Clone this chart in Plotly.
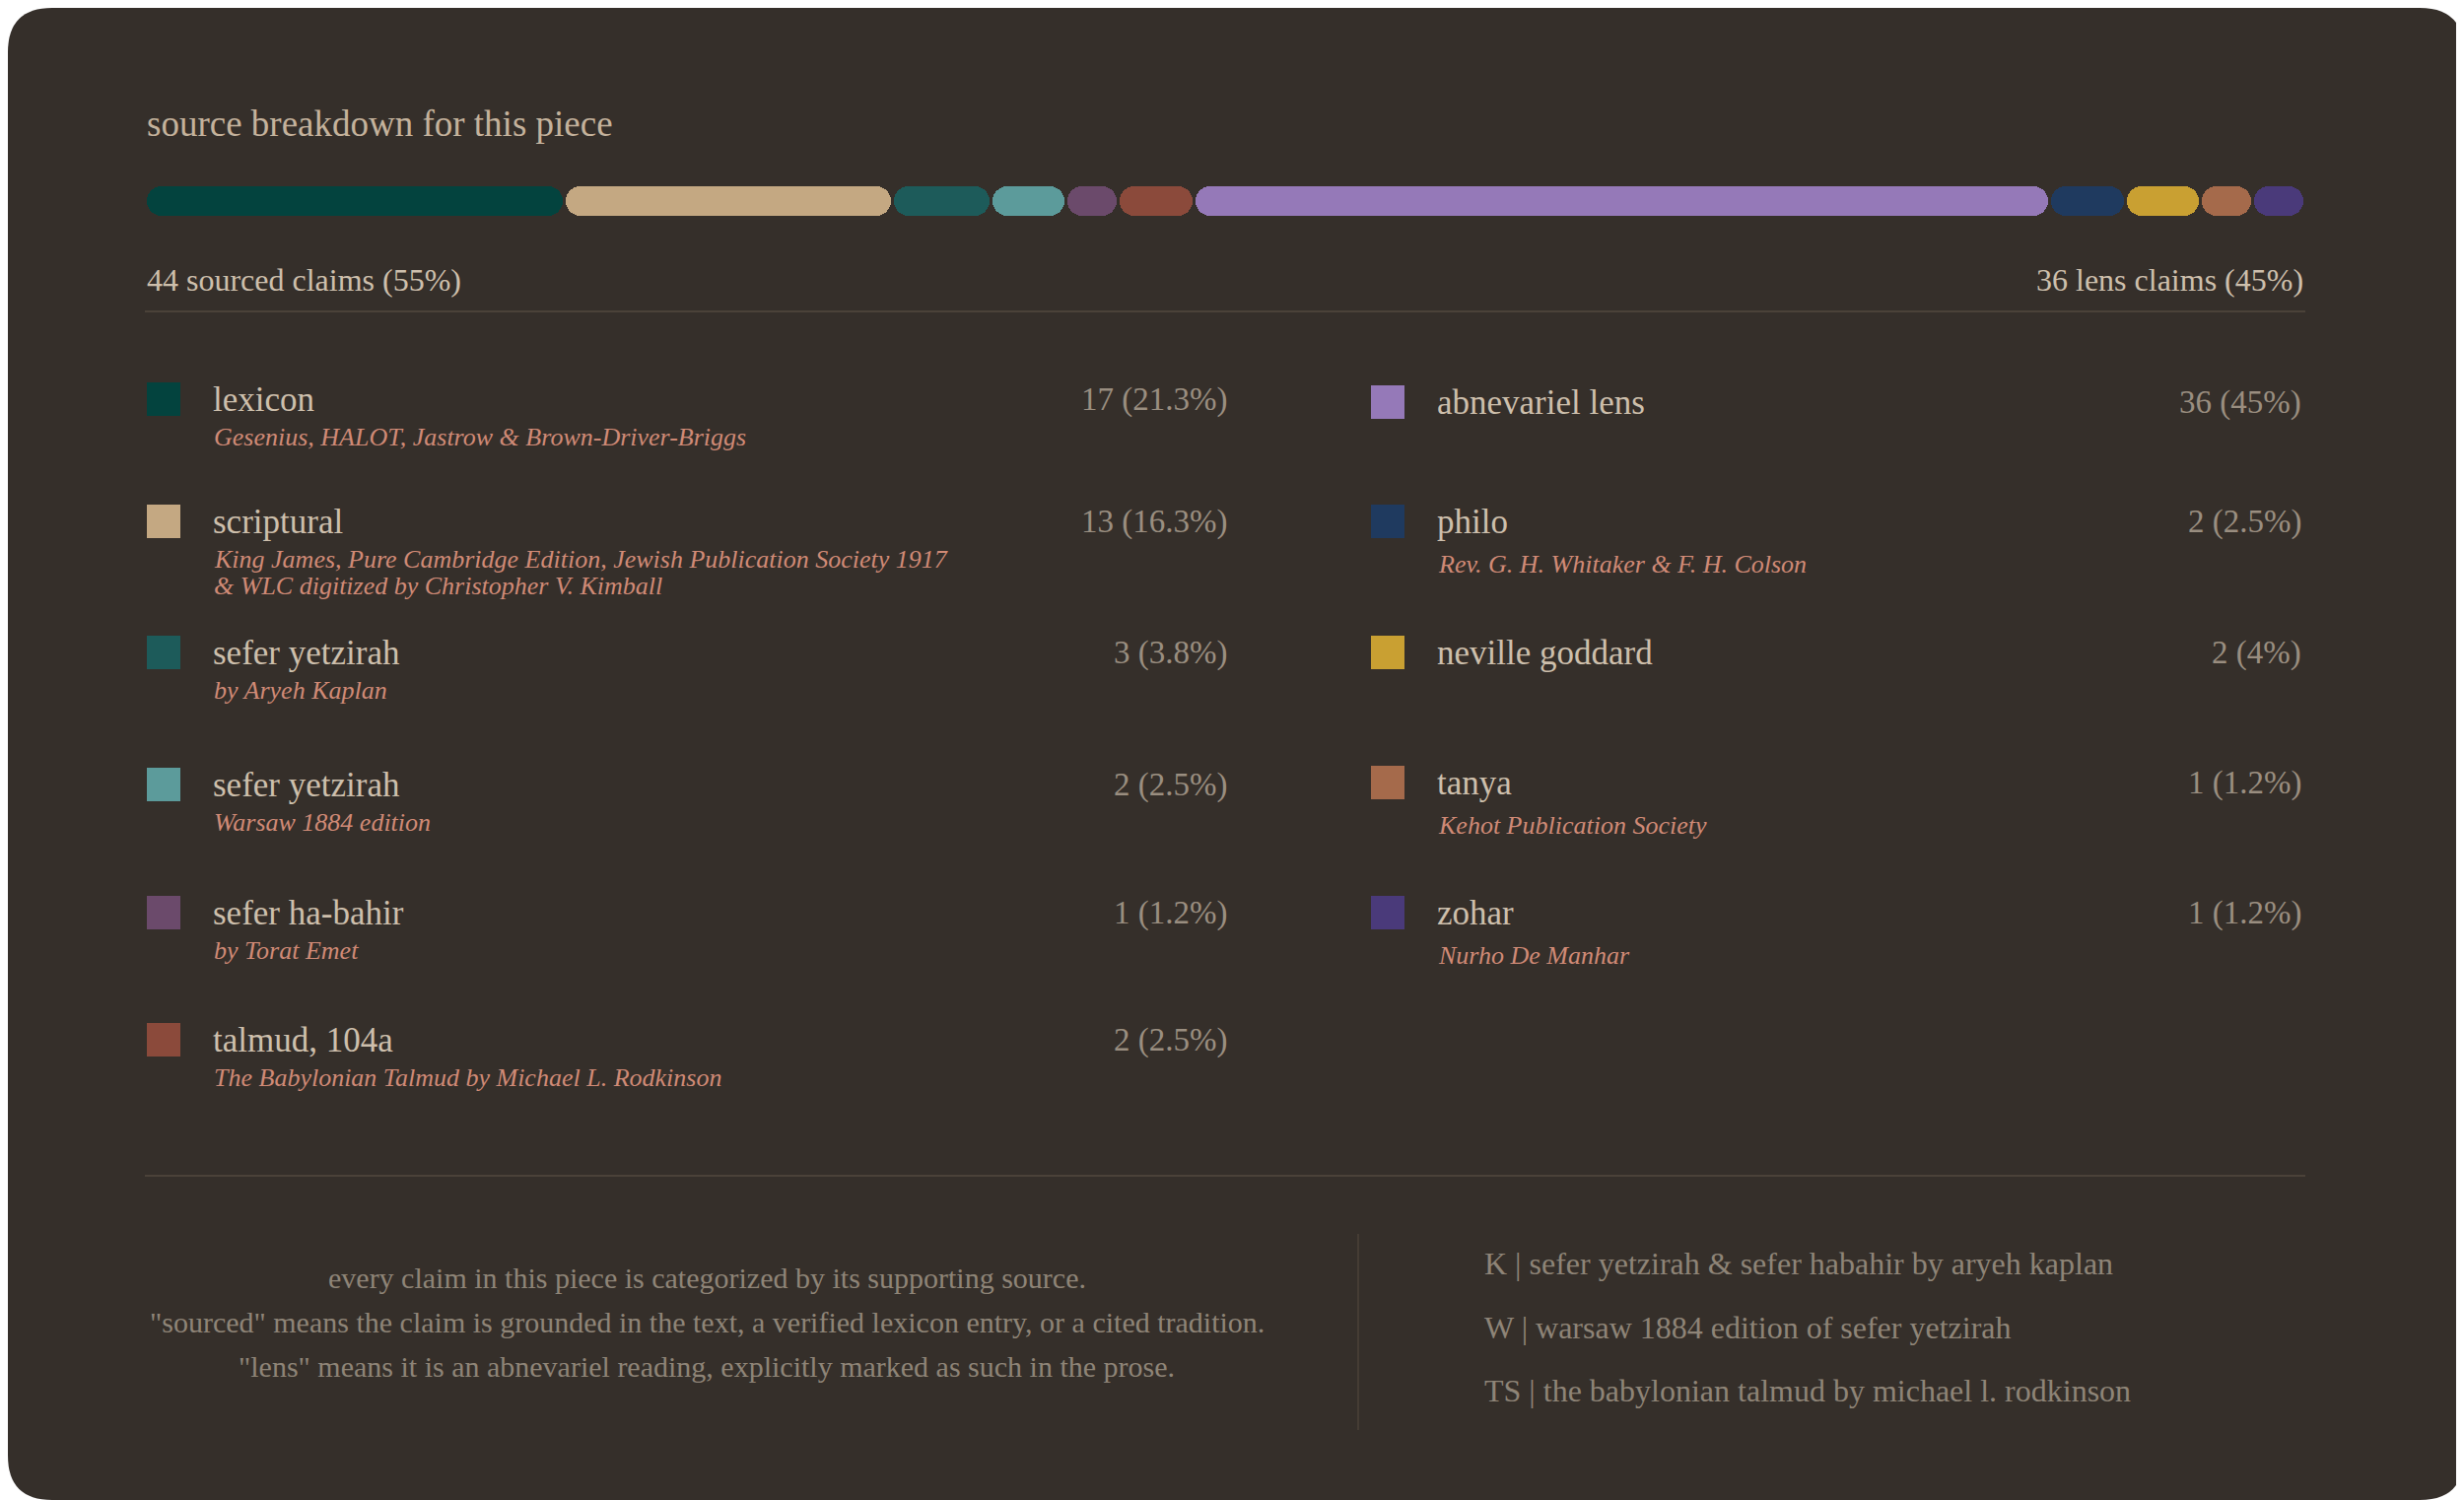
#!/usr/bin/env python3
import plotly.graph_objects as go

# --- data -------------------------------------------------------------
NAMES = [
    "lexicon", "scriptural", "sefer yetzirah", "sefer yetzirah",
    "sefer ha-bahir", "talmud, 104a",
    "abnevariel lens", "philo", "neville goddard", "tanya", "zohar",
]
NOTES = [
    "Gesenius, HALOT, Jastrow & Brown-Driver-Briggs",
    "King James, Pure Cambridge Edition, Jewish Publication Society 1917"
    "<br>& WLC digitized by Christopher V. Kimball",
    "by Aryeh Kaplan",
    "Warsaw 1884 edition",
    "by Torat Emet",
    "The Babylonian Talmud by Michael L. Rodkinson",
    "",
    "Rev. G. H. Whitaker & F. H. Colson",
    "",
    "Kehot Publication Society",
    "Nurho De Manhar",
]
COUNTS = [17, 13, 3, 2, 1, 2, 36, 2, 2, 1, 1]
COUNT_LABELS = [
    "17 (21.3%)", "13 (16.3%)", "3 (3.8%)", "2 (2.5%)", "1 (1.2%)", "2 (2.5%)",
    "36 (45%)", "2 (2.5%)", "2 (4%)", "1 (1.2%)", "1 (1.2%)",
]
COLORS = [
    "#03433e", "#c4a882", "#1d5b5a", "#5c9b9b", "#6b4a6b", "#8b4a3b",
    "#9579b8", "#1f3a5f", "#c9a032", "#a56a4b", "#4a3a7a",
]
LEFT_COUNT = 6          # first six rows go in the left column
LENS_INDEX = 6          # "abnevariel lens" is the lens bucket

FOOTER_NOTES = [
    "every claim in this piece is categorized by its supporting source.",
    '"sourced" means the claim is grounded in the text, a verified lexicon entry, or a cited tradition.',
    '"lens" means it is an abnevariel reading, explicitly marked as such in the prose.',
]
FOOTER_KEYS = [
    "K | sefer yetzirah & sefer habahir by aryeh kaplan",
    "W | warsaw 1884 edition of sefer yetzirah",
    "TS | the babylonian talmud by michael l. rodkinson",
]

# --- style / layout ---------------------------------------------------
PAGE_W, PAGE_H = 2500, 1522
OFF = 8                 # default body margin of the html page
W, H = PAGE_W - OFF, PAGE_H - OFF
CARD = "#352f2a"
RULE = "#4b4239"
SERIF = "Georgia, 'Liberation Serif', serif"
C_TITLE = "#c4b29c"
C_NAME = "#cdbfac"
C_NOTE = "#d08a76"
C_COUNT = "#9a8e80"
C_FOOT = "#8e8477"

LEFT_X, RIGHT_X = 147, 2339
ROW_Y = [[405, 529, 662, 796, 926, 1055], [408, 529, 662, 794, 926]]
COL_SWATCH_X = [166, 1408]
COL_NAME_X = [214, 1456]
COL_COUNT_X = [1247, 2337]
NOTE_DY = [38, 43]
NOTE_LINE = 27
MIN_SEG = 1.28          # every bar segment gets this extra width (count units)
GAP = 0.13              # gap between segments (count units)

total = sum(COUNTS)
lens_n = COUNTS[LENS_INDEX]
sourced_n = total - lens_n

fig = go.Figure()

# --- legend swatches (page-pixel axes x/y) ----------------------------
cols = [0 if i < LEFT_COUNT else 1 for i in range(len(NAMES))]
rows = [i if i < LEFT_COUNT else i - LEFT_COUNT for i in range(len(NAMES))]
row_y = [ROW_Y[c][r] for c, r in zip(cols, rows)]
fig.add_trace(go.Scatter(
    x=[COL_SWATCH_X[c] for c in cols], y=row_y, mode="markers",
    marker=dict(symbol="square", size=34, color=COLORS, line_width=0),
    hoverinfo="skip", showlegend=False,
))

# --- segmented bar ------------------------------------------------------
widths = [c + MIN_SEG for c in COUNTS]
starts = [sum(widths[:i]) for i in range(len(widths))]
fig.add_trace(go.Bar(
    y=[0] * len(COUNTS), x=[w - GAP for w in widths],
    base=[s + GAP / 2 for s in starts], orientation="h",
    xaxis="x2", yaxis="y2", width=1,
    marker=dict(color=COLORS, cornerradius=15, line_width=0),
    hoverinfo="skip", showlegend=False,
))

ann = []


def txt(x, y, s, size, color, xa="left", ya="middle", italic=False):
    ann.append(dict(
        x=x, y=y, xref="x", yref="y", text=s, showarrow=False,
        xanchor=xa, yanchor=ya, align=xa,
        font=dict(family=SERIF, size=size, color=color,
                  style="italic" if italic else "normal"),
    ))


txt(LEFT_X, 125, "source breakdown for this piece", 37, C_TITLE)
txt(LEFT_X, 284, f"{sourced_n} sourced claims ({sourced_n * 100 // total}%)", 32, C_NAME)
txt(RIGHT_X, 284, f"{lens_n} lens claims ({lens_n * 100 // total}%)", 32, C_NAME, xa="right")

for i, name in enumerate(NAMES):
    c, y = cols[i], row_y[i]
    txt(COL_NAME_X[c], y, name, 35, C_NAME)
    txt(COL_COUNT_X[c], y, COUNT_LABELS[i], 33, C_COUNT, xa="right")
    if NOTES[i]:
        for k, line in enumerate(NOTES[i].split("<br>")):
            txt(COL_NAME_X[c] + 1, y + NOTE_DY[c] + k * NOTE_LINE, line, 26, C_NOTE,
                italic=True)

for k, line in enumerate(FOOTER_NOTES):
    txt(717, 1296 + 45 * k, line, 30, C_FOOT, xa="center")
for k, line in enumerate(FOOTER_KEYS):
    txt(1504, 1282 + 64.5 * k, line, 32, C_FOOT)

# --- card + rules ------------------------------------------------------
r = 45
x0, y0, x1, y1 = OFF, OFF, PAGE_W, PAGE_H
card_path = (
    f"M {x0 + r},{y0} L {x1 - r},{y0} Q {x1},{y0} {x1},{y0 + r} "
    f"L {x1},{y1 - r} Q {x1},{y1} {x1 - r},{y1} L {x0 + r},{y1} "
    f"Q {x0},{y1} {x0},{y1 - r} L {x0},{y0 + r} Q {x0},{y0} {x0 + r},{y0} Z"
)
shapes = [
    dict(type="path", path=card_path, xref="x", yref="y",
         fillcolor=CARD, line_width=0, layer="below"),
    dict(type="line", xref="x", yref="y", x0=LEFT_X, x1=RIGHT_X, y0=316, y1=316,
         line=dict(color=RULE, width=2), layer="below"),
    dict(type="line", xref="x", yref="y", x0=LEFT_X, x1=RIGHT_X, y0=1193, y1=1193,
         line=dict(color=RULE, width=2), layer="below"),
    dict(type="line", xref="x", yref="y", x0=1378, x1=1378, y0=1252, y1=1451,
         line=dict(color=RULE, width=1.5), layer="below"),
]

bar_top, bar_bot = 189, 219
fig.update_layout(
    width=W, height=H, margin=dict(l=0, r=0, t=0, b=0),
    paper_bgcolor="#ffffff", plot_bgcolor="rgba(0,0,0,0)",
    barmode="overlay", bargap=0,
    xaxis=dict(domain=[0, 1], range=[OFF, PAGE_W], visible=False, fixedrange=True),
    yaxis=dict(domain=[0, 1], range=[PAGE_H, OFF], visible=False, fixedrange=True),
    xaxis2=dict(domain=[(LEFT_X - OFF) / W, (RIGHT_X - OFF) / W],
                range=[0, sum(widths)], visible=False, anchor="y2", fixedrange=True),
    yaxis2=dict(domain=[(PAGE_H - bar_bot) / H, (PAGE_H - bar_top) / H],
                range=[-0.5, 0.5], visible=False, anchor="x2", fixedrange=True),
    shapes=shapes, annotations=ann, showlegend=False,
)

fig.write_html("out.html")
